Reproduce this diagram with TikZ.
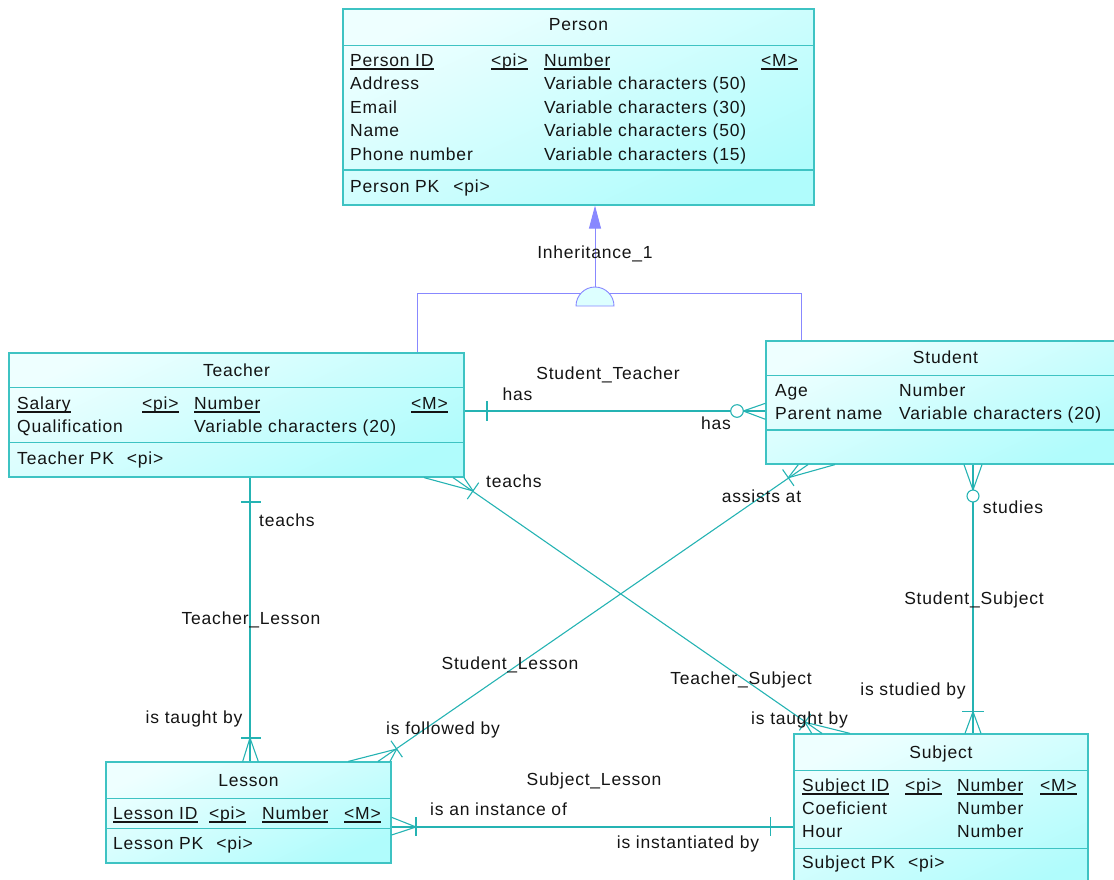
\documentclass[tikz,border=0pt]{standalone}
\usepackage{fontspec}
\setmainfont{Liberation Sans}[LetterSpace=4.5]
\usetikzlibrary{arrows.meta}
\definecolor{bord}{HTML}{3EC3C3}
\definecolor{relc}{HTML}{25B3B3}
\definecolor{inhc}{HTML}{8888FF}
\definecolor{txt}{HTML}{141414}
\definecolor{cTop}{HTML}{EEFFFF}
\definecolor{cBot}{HTML}{B0FCFC}
\definecolor{semif}{HTML}{DDFFFF}
\newcommand\myul[1]{\setbox0\hbox{#1}\rlap{\vrule height -2pt depth 3.5pt width \wd0}\box0}
\tikzset{
  every node/.style={font=\fontsize{17.5}{21}\selectfont, text=txt, inner sep=0pt},
  entity/.style={draw=bord, line width=1.2pt, rectangle,
    top color=cTop, bottom color=cBot, shading angle=25},
  sepline/.style={draw=bord, line width=1.2pt},
  rel/.style={draw=relc, line width=1.1pt},
  inh/.style={draw=inhc, line width=0.9pt},
  tw/.style={anchor=base west},
  tc/.style={anchor=base},
  te/.style={anchor=base east}
}
\begin{document}
\begin{tikzpicture}[x=1pt,y=-1pt]
\useasboundingbox (0,0) rectangle (1114,879);
\clip (0,0) rectangle (1114,879);

% ---------------- entities ----------------
\node[entity, minimum width=471pt, minimum height=196pt] (person) at (578.5,107) {};
\node[entity, minimum width=455pt, minimum height=124pt] (teacher) at (236.5,415) {};
\node[entity, minimum width=359pt, minimum height=123pt] (student) at (945.5,402.5) {};
\node[entity, minimum width=285pt, minimum height=101pt] (lesson) at (248.5,812.5) {};
\node[entity, minimum width=294pt, minimum height=161pt] (subject) at (941,814.5) {};

% separators
\draw[sepline] (343,45.7) -- (814,45.7);
\draw[sepline] (343,170) -- (814,170);
\draw[sepline] (9,387.7) -- (464,387.7);
\draw[sepline] (9,442.7) -- (464,442.7);
\draw[sepline] (766,375.7) -- (1125,375.7);
\draw[sepline] (766,430) -- (1125,430);
\draw[sepline] (106,798.3) -- (391,798.3);
\draw[sepline] (106,828.3) -- (391,828.3);
\draw[sepline] (794,770.7) -- (1088,770.7);
\draw[sepline] (794,848.7) -- (1088,848.7);

% Person text
\node[tc] (pH) at (578.5,30) {Person};
\node[tw] (p1a) at (350,66) {\myul{Person ID}};
\node[tw] (p1b) at (491,66) {\myul{<pi>}};
\node[tw] (p1c) at (544,66) {\myul{Number}};
\node[te] (p1d) at (798,66) {\myul{<M>}};
\node[tw] (p2a) at (350,89) {Address};
\node[tw] (p2c) at (544,89) {Variable characters (50)};
\node[tw] (p3a) at (350,113) {Email};
\node[tw] (p3c) at (544,113) {Variable characters (30)};
\node[tw] (p4a) at (350,136) {Name};
\node[tw] (p4c) at (544,136) {Variable characters (50)};
\node[tw] (p5a) at (350,160) {Phone number};
\node[tw] (p5c) at (544,160) {Variable characters (15)};
\node[tw] (pK) at (350,192) {Person PK\hspace{14pt}<pi>};

% Teacher text
\node[tc] (tH) at (236.5,376) {Teacher};
\node[tw] (t1a) at (17,409) {\myul{Salary}};
\node[tw] (t1b) at (142,409) {\myul{<pi>}};
\node[tw] (t1c) at (194,409) {\myul{Number}};
\node[te] (t1d) at (448,409) {\myul{<M>}};
\node[tw] (t2a) at (17,432) {Qualification};
\node[tw] (t2c) at (194,432) {Variable characters (20)};
\node[tw] (tK) at (17,464) {Teacher PK\hspace{13pt}<pi>};

% Student text
\node[tc] (sH) at (945.5,363) {Student};
\node[tw] (s1a) at (775,396) {Age};
\node[tw] (s1c) at (899,396) {Number};
\node[tw] (s2a) at (775,419) {Parent name};
\node[tw] (s2c) at (899,419) {Variable characters (20)};

% Lesson text
\node[tc] (lH) at (248.5,786) {Lesson};
\node[tw] (l1a) at (113,819) {\myul{Lesson ID}};
\node[tw] (l1b) at (209,819) {\myul{<pi>}};
\node[tw] (l1c) at (262,819) {\myul{Number}};
\node[te] (l1d) at (381,819) {\myul{<M>}};
\node[tw] (lK) at (113,849) {Lesson PK\hspace{13pt}<pi>};

% Subject text
\node[tc] (bH) at (941,758) {Subject};
\node[tw] (b1a) at (802,791) {\myul{Subject ID}};
\node[tw] (b1b) at (905,791) {\myul{<pi>}};
\node[tw] (b1c) at (957,791) {\myul{Number}};
\node[te] (b1d) at (1077,791) {\myul{<M>}};
\node[tw] (b2a) at (802,814) {Coeficient};
\node[tw] (b2c) at (957,814) {Number};
\node[tw] (b3a) at (802,837) {Hour};
\node[tw] (b3c) at (957,837) {Number};
\node[tw] (bK) at (802,868) {Subject PK\hspace{13pt}<pi>};

% ---------------- inheritance ----------------
\draw[inh] (teacher.north -| 417,0) -- (417,293) -- (801,293) -- (student.north -| 801,0);
\filldraw[inh, fill=semif] (576,306) arc (180:360:19) -- cycle;
\coordinate (inhtop) at (595,287);
\draw[inh, -{Triangle[length=23pt,width=12pt]}, fill=inhc] (inhtop) -- (person.south -| 595,0);
\node[tc] (inhL) at (595,258) {Inheritance\_1};

% ---------------- Student_Teacher ----------------
\draw[rel] (teacher.east |- 0,411) -- (student.west |- 0,411);
\draw[rel] (487,401) -- (487,421);
\draw[rel] (743.3,411) -- (student.west |- 0,403.3);
\draw[rel] (743.3,411) -- (student.west |- 0,419.3);
\draw[rel, fill=white] (737,411) circle (6.3);
\node[tc] (stL) at (608,379) {Student\_Teacher};
\node[tw] (stA) at (502.5,400) {has};
\node[tw] (stB) at (701,429) {has};

% ---------------- Teacher_Lesson ----------------
\draw[rel] (teacher.south -| 250,0) -- (lesson.north -| 250,0);
\draw[rel] (241,502) -- (261,502);
\draw[rel] (241,738) -- (261,738);
\draw[rel] (250,738) -- (lesson.north -| 242.7,0);
\draw[rel] (250,738) -- (lesson.north -| 258.3,0);
\node[tw] (tlA) at (259,526) {teachs};
\node[tc] (tlL) at (251,624) {Teacher\_Lesson};
\node[tc] (tlB) at (194,723) {is taught by};

% ---------------- Teacher_Subject ----------------
\draw[rel] (teacher.south -| 453,0) -- (subject.north -| 822,0);
\draw[rel] (473,490.9) -- (teacher.south -| 424,0);
\draw[rel] (473,490.9) -- (teacher.south -| 464,0);
\draw[rel] (467.3,499.1) -- (478.7,482.7);
\draw[rel] (805,722.2) -- (subject.north -| 811.7,0);
\draw[rel] (805,722.2) -- (subject.north -| 850,0);
\draw[rel] (799.3,730.4) -- (810.7,714);
\node[tw] (tsA) at (486,487.3) {teachs};
\node[tc] (tsL) at (741,684) {Teacher\_Subject};
\node[tw] (tsB) at (751,724.3) {is taught by};

% ---------------- Student_Lesson ----------------
\draw[rel] (student.south -| 808,0) -- (lesson.north -| 378,0);
\draw[rel] (788.3,477.7) -- (student.south -| 798.3,0);
\draw[rel] (788.3,477.7) -- (student.south -| 835,0);
\draw[rel] (782.6,469.5) -- (794,485.9);
\draw[rel] (396.7,749) -- (lesson.north -| 348.3,0);
\draw[rel] (396.7,749) -- (lesson.north -| 390,0);
\draw[rel] (391,740.8) -- (402.4,757.2);
\node[tw] (slA) at (721.7,502.7) {assists at};
\node[tc] (slL) at (510,669) {Student\_Lesson};
\node[tw] (slB) at (386,734.3) {is followed by};

% ---------------- Student_Subject ----------------
\draw[rel] (student.south -| 973,0) -- (subject.north -| 973,0);
\draw[rel] (973,490) -- (student.south -| 964,0);
\draw[rel] (973,490) -- (student.south -| 982,0);
\draw[rel, fill=white] (973,496) circle (6);
\draw[rel] (962,711.7) -- (984,711.7);
\draw[rel] (973,711.7) -- (subject.north -| 965,0);
\draw[rel] (973,711.7) -- (subject.north -| 981,0);
\node[tw] (ssA) at (982.7,513.3) {studies};
\node[tc] (ssL) at (974,604) {Student\_Subject};
\node[tc] (ssB) at (913,695) {is studied by};

% ---------------- Subject_Lesson ----------------
\draw[rel] (lesson.east |- 0,827) -- (subject.west |- 0,827);
\draw[rel] (416,827) -- (lesson.east |- 0,817.3);
\draw[rel] (416,827) -- (lesson.east |- 0,835);
\draw[rel] (416,817) -- (416,836);
\draw[rel] (770.7,817) -- (770.7,836);
\node[tc] (blL) at (594,785) {Subject\_Lesson};
\node[tw] (blA) at (430,815.7) {is an instance of};
\node[tc] (blB) at (688,848) {is instantiated by};
\end{tikzpicture}
\end{document}
